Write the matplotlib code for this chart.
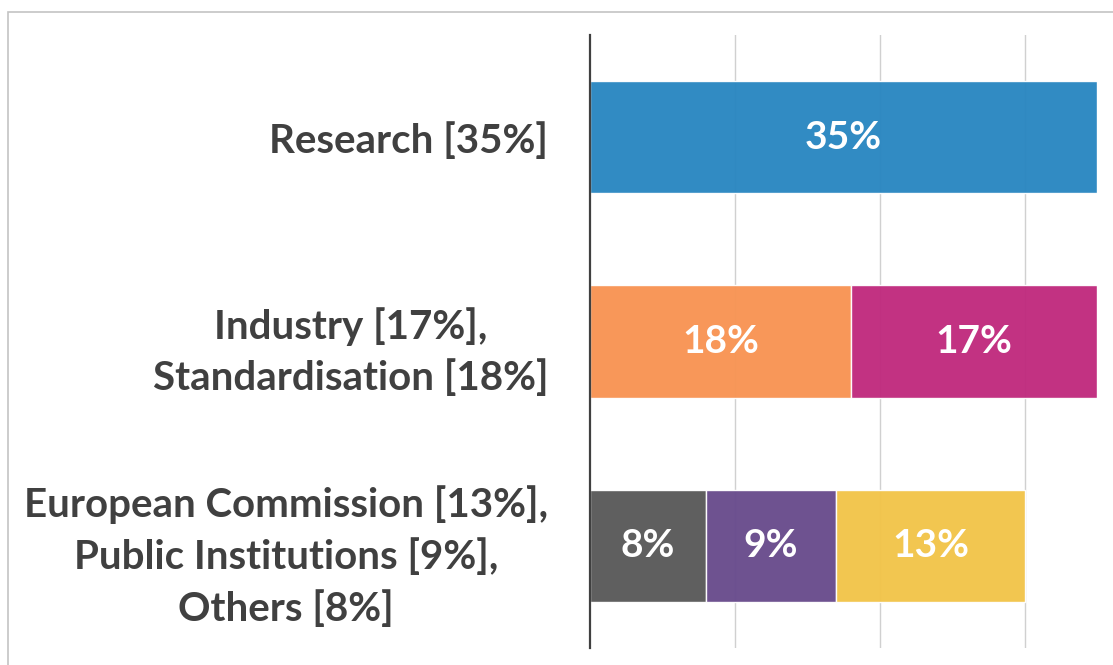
import matplotlib.pyplot as plt
from matplotlib.patches import Rectangle
import numpy as np

# rows from bottom to top
row_labels = ['European Commission [13%],\nPublic Institutions [9%],\nOthers [8%]',
              'Industry [17%],\nStandardisation [18%]',
              'Research [35%]']

# segments per row, left to right
segments = [
    [('Others', 8, '#5a5a5a'), ('Public Institutions', 9, '#694c8d'), ('European Commission', 13, '#f2c44a')],
    [('Standardisation', 18, '#f89454'), ('Industry', 17, '#c02b7e')],
    [('Research', 35, '#2a87c1')],
]

gridlines = [10, 20, 30]

plt.rcParams['font.family'] = ['Lato', 'DejaVu Sans']

fig = plt.figure(figsize=(11.13, 6.65), dpi=100)
ax = fig.add_axes([590 / 1113, 1 - 648 / 665, (1097 - 590) / 1113, (648 - 35) / 665])

pos = np.arange(len(row_labels))
for y, row in zip(pos, segments):
    left = 0
    for name, val, col in row:
        ax.barh(y, val, left=left, height=0.55, color=col, edgecolor='white',
                linewidth=1, alpha=0.97, zorder=2)
        ax.text(left + val / 2, y, f'{val}%', ha='center', va='center',
                color='white', fontsize=28, fontweight='bold', zorder=3)
        left += val

for g in gridlines:
    ax.axvline(g, color='#d0d0d0', lw=1, zorder=1)

ax.set_xlim(0, 35)
ax.set_ylim(-0.5, 2.5)
ax.set_xticks([])
ax.set_yticks(pos, row_labels)
ax.tick_params(axis='y', length=0, pad=30)
for lbl in ax.get_yticklabels():
    lbl.set_multialignment('center')
    lbl.set_fontsize(29)
    lbl.set_fontweight('bold')
    lbl.set_color('#404040')
    lbl.set_linespacing(1.46)

for s in ['top', 'right', 'bottom']:
    ax.spines[s].set_visible(False)
ax.spines['left'].set_color('#404040')
ax.spines['left'].set_linewidth(1.6)
ax.spines['left'].set_zorder(4)

# light frame around the chart
fig.patches.append(Rectangle((8 / 1113, -0.1), 1.0, 1.1 - 12 / 665, transform=fig.transFigure,
                             fill=False, edgecolor='#c4c4c4', lw=1.2))

fig.savefig('out.png', dpi=100)
